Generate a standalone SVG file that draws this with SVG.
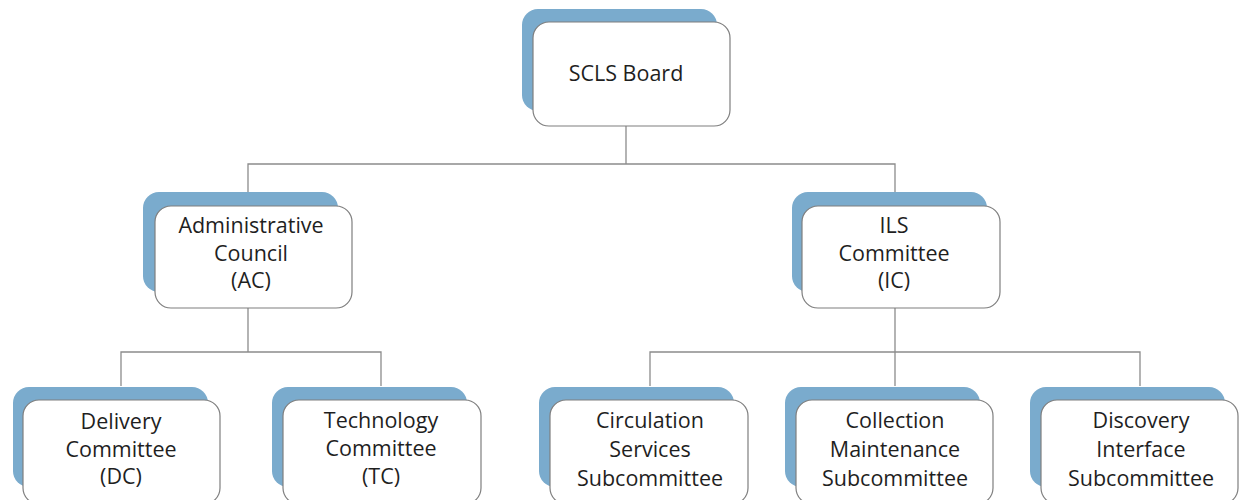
<svg xmlns="http://www.w3.org/2000/svg" width="1239" height="500" viewBox="0 0 1239 500">
<style>
.bg{fill:#7aabcd;}
.box{fill:#ffffff;stroke:#7f7f7f;stroke-width:1.2;}
.t{font-family:"Open Sans","Liberation Sans",sans-serif;font-size:21.5px;fill:#1f1f1f;text-anchor:middle;}
.ln{fill:none;stroke:#8c8c8c;stroke-width:1.3;}
</style>
<rect width="1239" height="500" fill="#ffffff"/>
<g id="connectors">
<path class="ln" d="M626 126 V164 M248 192 V164 H895 V192"/>
<path class="ln" d="M248 308 V352 M121 386 V352 H381 V386"/>
<path class="ln" d="M895 308 V352 M650 386 V352 H1140 V386 M895 352 V386"/>
</g>
<g id="scls-board">
<rect class="bg" x="522" y="9" width="195" height="102" rx="16"/>
<rect class="box" x="533" y="22" width="197" height="104" rx="16"/>
<text class="t" x="626" y="81">SCLS Board</text>
</g>
<g id="administrative-council">
<rect class="bg" x="143" y="192" width="195" height="100" rx="16"/>
<rect class="box" x="155" y="206" width="197" height="102" rx="16"/>
<text class="t" x="251" y="233">Administrative</text>
<text class="t" x="251" y="261">Council</text>
<text class="t" x="251" y="288">(AC)</text>
</g>
<g id="ils-committee">
<rect class="bg" x="792" y="192" width="195" height="100" rx="16"/>
<rect class="box" x="802" y="206" width="198" height="102" rx="16"/>
<text class="t" x="894" y="233">ILS</text>
<text class="t" x="894" y="261">Committee</text>
<text class="t" x="894" y="288">(IC)</text>
</g>
<g id="delivery-committee">
<rect class="bg" x="13" y="387" width="195" height="100" rx="16"/>
<rect class="box" x="23" y="400" width="197" height="104" rx="16"/>
<text class="t" x="121" y="429">Delivery</text>
<text class="t" x="121" y="457">Committee</text>
<text class="t" x="121" y="484">(DC)</text>
</g>
<g id="technology-committee">
<rect class="bg" x="272" y="387" width="195" height="100" rx="16"/>
<rect class="box" x="283" y="400" width="198" height="104" rx="16"/>
<text class="t" x="381" y="428">Technology</text>
<text class="t" x="381" y="456">Committee</text>
<text class="t" x="381" y="484">(TC)</text>
</g>
<g id="circulation-services">
<rect class="bg" x="539" y="387" width="195" height="100" rx="16"/>
<rect class="box" x="550" y="400" width="198" height="104" rx="16"/>
<text class="t" x="650" y="428">Circulation</text>
<text class="t" x="650" y="457">Services</text>
<text class="t" x="650" y="486">Subcommittee</text>
</g>
<g id="collection-maintenance">
<rect class="bg" x="785" y="387" width="195" height="100" rx="16"/>
<rect class="box" x="796" y="400" width="197" height="104" rx="16"/>
<text class="t" x="895" y="428">Collection</text>
<text class="t" x="895" y="457">Maintenance</text>
<text class="t" x="895" y="486">Subcommittee</text>
</g>
<g id="discovery-interface">
<rect class="bg" x="1030" y="387" width="195" height="100" rx="16"/>
<rect class="box" x="1041" y="400" width="197" height="104" rx="16"/>
<text class="t" x="1141" y="428">Discovery</text>
<text class="t" x="1141" y="457">Interface</text>
<text class="t" x="1141" y="486">Subcommittee</text>
</g>
</svg>
